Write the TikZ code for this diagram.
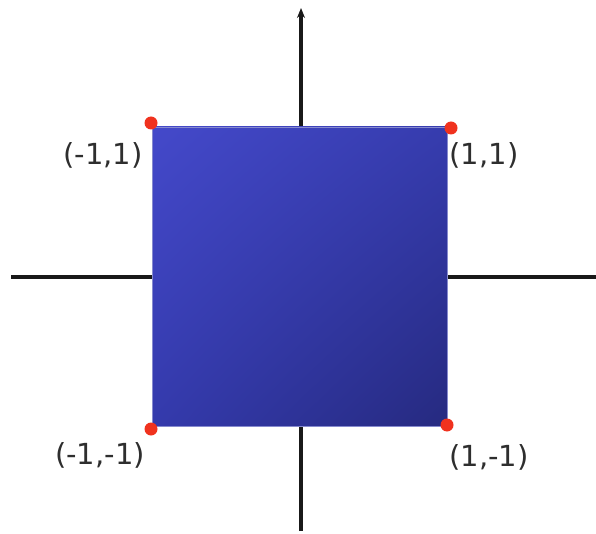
\documentclass[tikz,border=0pt]{standalone}
\usepackage{fontspec}
\setmainfont{DejaVu Sans}
\usetikzlibrary{arrows.meta,shadings}
\definecolor{sqUL}{HTML}{4449CA}
\definecolor{sqUR}{HTML}{363CAE}
\definecolor{sqLL}{HTML}{343AAC}
\definecolor{sqLR}{HTML}{262A80}
\definecolor{dotred}{HTML}{F0321E}
\definecolor{txt}{HTML}{2E2E2E}
\tikzset{
  axis/.style={line width=3.2pt, black!90},
  corner/.style={circle, fill=dotred, inner sep=0pt, minimum size=13pt},
  lab/.style={font=\fontsize{29}{32}\selectfont, text=txt, inner sep=0pt}
}
\begin{document}
\begin{tikzpicture}[x=1pt,y=-1pt]
\useasboundingbox (0,0) rectangle (596,534);
\coordinate (xl) at (11,277);
\coordinate (xr) at (596,277);
\coordinate (yb) at (301,531);
\coordinate (yt) at (301,8);
\draw[axis] (xl) -- (xr);
\draw[axis, -{Stealth[length=10pt,width=8pt]}] (yb) -- (yt);
\shade[upper left=sqUL, upper right=sqUR, lower left=sqLL, lower right=sqLR, draw=sqUR!60!white, line width=0.6pt]
  (152,127) rectangle (447,426);
\node[corner] (tl) at (151,123) {};
\node[corner] (tr) at (451,128) {};
\node[corner] (bl) at (151,429) {};
\node[corner] (br) at (447,425) {};
\node[lab] (ltl) at (103,155) {(-1,1)};
\node[lab] (ltr) at (484,155) {(1,1)};
\node[lab] (lbl) at (100,455) {(-1,-1)};
\node[lab] (lbr) at (489,457) {(1,-1)};
\end{tikzpicture}
\end{document}
